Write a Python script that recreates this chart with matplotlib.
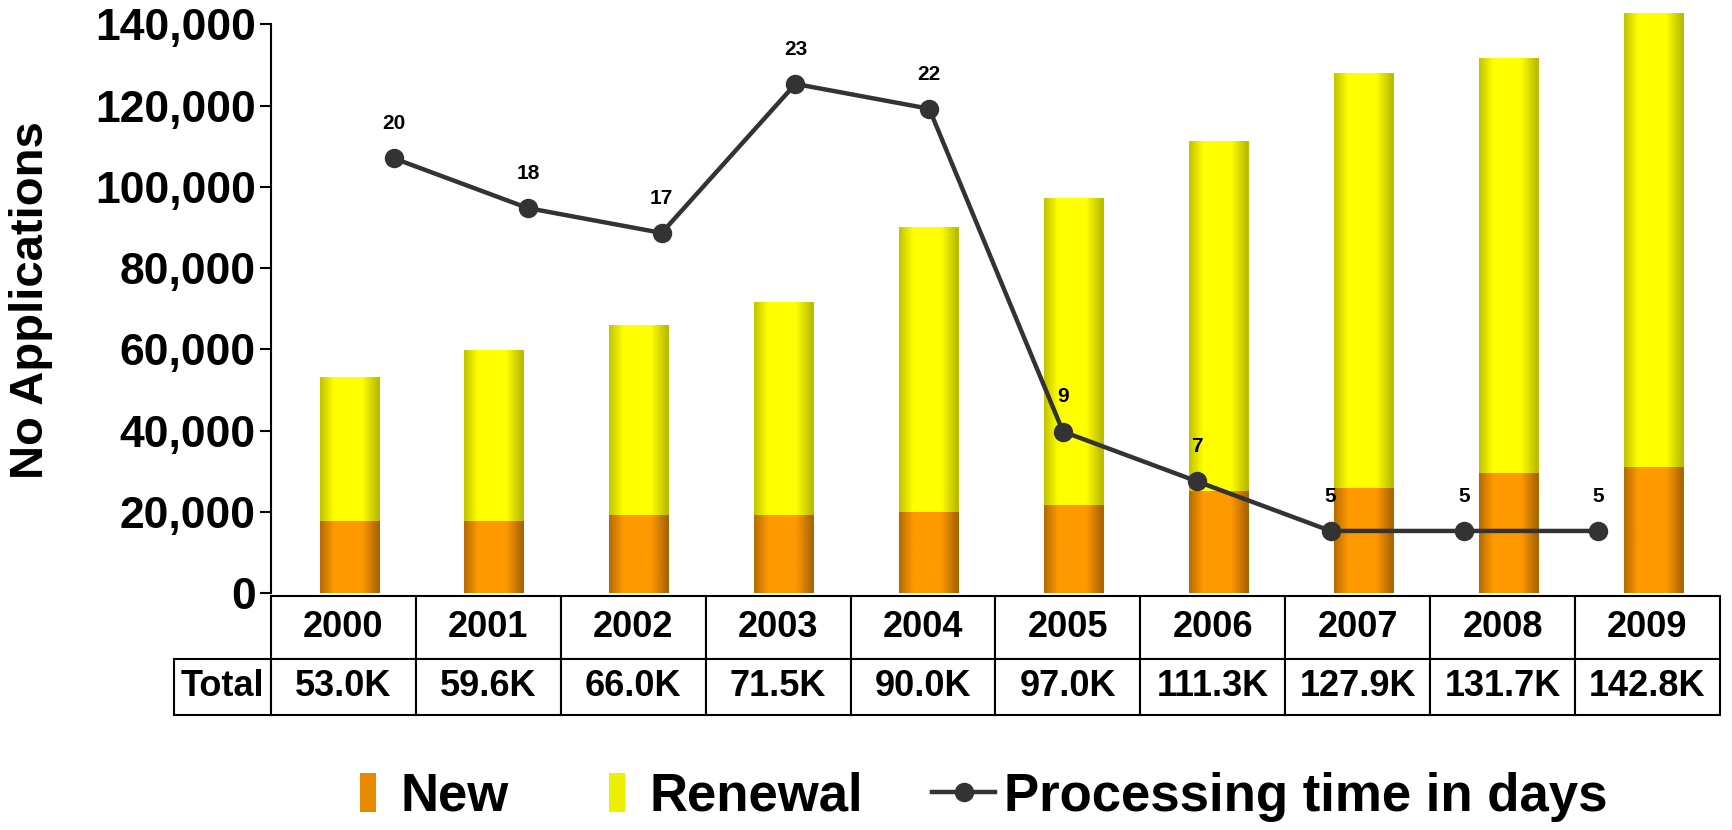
import matplotlib
matplotlib.use('Agg')
import numpy as np
import matplotlib.pyplot as plt
from matplotlib.patches import Rectangle
from matplotlib.lines import Line2D
from matplotlib.legend_handler import HandlerPatch
from matplotlib.table import Table
from matplotlib.ticker import FuncFormatter

plt.rcParams['font.family'] = ['Liberation Sans', 'DejaVu Sans']
plt.rcParams['font.weight'] = 'bold'

# data (applications in thousands, processing time in days)
years = ['2000', '2001', '2002', '2003', '2004', '2005', '2006', '2007', '2008', '2009']
new_k = [17.7, 17.7, 19.3, 19.3, 20.0, 21.6, 25.2, 25.8, 29.6, 31.1]
total_k = [53.0, 59.6, 66.0, 71.5, 90.0, 97.0, 111.3, 127.9, 131.7, 142.8]
days = [20, 18, 17, 23, 22, 9, 7, 5, 5, 5]
total_labels = ['53.0K', '59.6K', '66.0K', '71.5K', '90.0K', '97.0K',
                '111.3K', '127.9K', '131.7K', '142.8K']

new = np.array(new_k) * 1000
renewal = (np.array(total_k) - np.array(new_k)) * 1000
x = np.arange(len(years))

fig = plt.figure(figsize=(17.32, 8.30), dpi=100)
ax = fig.add_axes([0.1565, 0.2855, 0.8365, 0.6852])

bx = x + 0.04
bars_new = ax.bar(bx, new, width=0.41, color='#F09000', clip_on=False, zorder=2)
bars_ren = ax.bar(bx, renewal, bottom=new, width=0.41, color='#F0F000',
                  clip_on=False, zorder=2)


def shade(rects, dark, light):
    # horizontal gradient: dark edges, bright middle
    t = np.linspace(0, 1, 80)
    f = np.clip(1.9 * (1 - np.abs(t - 0.47) / 0.5), 0, 1)
    dark = np.array(dark) / 255.0
    light = np.array(light) / 255.0
    img = dark[None, :] + (light - dark)[None, :] * f[:, None]
    img = img[None, :, :]
    for r in rects:
        x0, y0 = r.get_x(), r.get_y()
        ax.imshow(img, extent=[x0, x0 + r.get_width(), y0, y0 + r.get_height()],
                  aspect='auto', zorder=2.1, clip_on=False,
                  interpolation='bilinear')


shade(bars_new, (172, 102, 0), (255, 153, 0))
shade(bars_ren, (188, 188, 0), (255, 255, 0))

ax.set_xlim(-0.5, 9.5)
ax.set_ylim(0, 140000)
ax.set_yticks(np.arange(0, 140001, 20000))
ax.yaxis.set_major_formatter(FuncFormatter(lambda v, p: f'{v:,.0f}'))
ax.tick_params(axis='y', labelsize=32, length=8, width=1.5, pad=3)
ax.set_xticks([])
for s in ['top', 'right', 'bottom']:
    ax.spines[s].set_visible(False)
ax.spines['left'].set_linewidth(1.5)

fig.text(0.018, 0.638, 'No Applications', rotation=90, ha='center',
         va='center', fontsize=34)

# processing time on its own axes
ax2 = fig.add_axes(ax.get_position(), frameon=False)
ax2.set_xlim(-0.92, 9.91)
ax2.set_ylim(2.5, 25.4)
ax2.axis('off')
ax2.plot(x, days, color='#333333', lw=3.2, marker='o', ms=13, zorder=3)
for i, d in zip(x, days):
    ax2.annotate(str(d), (i, d), xytext=(0, 25), textcoords='offset points',
                 ha='center', va='center', fontsize=15)

# table under the chart (sizes in axes units)
tb = Table(ax, bbox=[0, -0.2136, 1, 0.2078])
row_h = [0.1107, 0.0971]
col_w = 1.0 / len(years)
rows = [('', years), ('Total', total_labels)]
for r, (lab, vals) in enumerate(rows):
    c = tb.add_cell(r, -1, width=0.0671, height=row_h[r], text=lab, loc='center')
    if not lab:
        c.visible_edges = 'open'
    for j, s in enumerate(vals):
        tb.add_cell(r, j, width=col_w, height=row_h[r], text=s, loc='center')
tb.auto_set_font_size(False)
tb.set_fontsize(26)
for cell in tb.get_celld().values():
    cell.set_linewidth(1.5)
    cell.set_edgecolor('black')
    cell.get_text().set_fontweight('bold')
ax.add_table(tb)


def narrow_patch(legend, orig_handle, xdescent, ydescent, width, height, fontsize):
    return Rectangle((-xdescent + 0.6 * fontsize,
                      -ydescent + (height - 0.74 * fontsize) / 2),
                     0.3 * fontsize, 0.74 * fontsize)


handles = [Rectangle((0, 0), 1, 1, facecolor='#E88A00'),
           Rectangle((0, 0), 1, 1, facecolor='#EEEE00'),
           Line2D([], [], color='#333333', lw=3.2, marker='o', ms=13)]
labels = ['New', 'Renewal', 'Processing time in days']
fig.legend(handles, labels, loc='center', bbox_to_anchor=(0.559, 0.04),
           ncol=3, frameon=False, prop={'size': 38, 'weight': 'bold'},
           handlelength=1.2, handletextpad=0.17, columnspacing=1.3,
           handler_map={Rectangle: HandlerPatch(patch_func=narrow_patch)})

fig.savefig('out.png', dpi=100)
